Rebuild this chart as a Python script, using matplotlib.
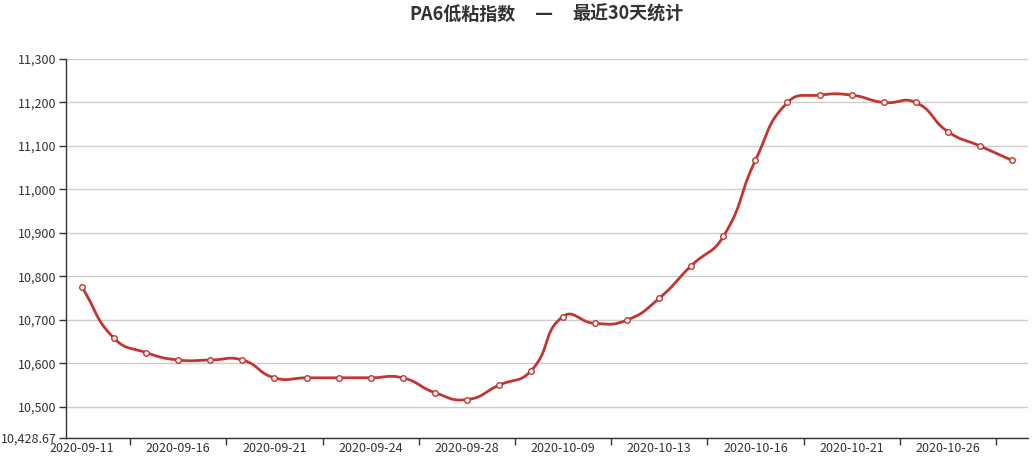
import numpy as np
import matplotlib
matplotlib.use('Agg')
import matplotlib.pyplot as plt
from matplotlib.ticker import FixedLocator, FuncFormatter

plt.rcParams['font.family'] = ['Noto Sans CJK SC', 'DejaVu Sans']

dates = ['2020-09-11', '2020-09-14', '2020-09-15', '2020-09-16', '2020-09-17',
         '2020-09-18', '2020-09-21', '2020-09-22', '2020-09-23', '2020-09-24',
         '2020-09-25', '2020-09-27', '2020-09-28', '2020-09-29', '2020-09-30',
         '2020-10-09', '2020-10-10', '2020-10-12', '2020-10-13', '2020-10-14',
         '2020-10-15', '2020-10-16', '2020-10-19', '2020-10-20', '2020-10-21',
         '2020-10-22', '2020-10-23', '2020-10-26', '2020-10-27', '2020-10-28']
values = [10775, 10658, 10625, 10608, 10608, 10608, 10567, 10567, 10567, 10567,
          10567, 10533, 10517, 10550, 10583, 10708, 10692, 10700, 10750, 10825,
          10892, 11067, 11200, 11217, 11217, 11200, 11200, 11133, 11100, 11067]
y_min = 10428.67
y_ticks = [10500, 10600, 10700, 10800, 10900, 11000, 11100, 11200, 11300]
title_parts = ['PA6低粘指数', '—', '最近30天统计']

LINE = '#c23531'


def smooth_path(px, py, smooth=0.5, n=20):
    # echarts 风格的贝塞尔平滑（在像素坐标下计算）
    pts = np.column_stack([px, py])
    cnt = len(pts)
    cps = []
    for i in range(cnt):
        p = pts[i]
        prev = pts[i - 1] if i > 0 else p
        nxt = pts[i + 1] if i < cnt - 1 else p
        v = (nxt - prev) * smooth
        d0 = np.hypot(*(p - prev))
        d1 = np.hypot(*(p - nxt))
        s = d0 + d1
        if s:
            d0, d1 = d0 / s, d1 / s
        cps.append((p - v * d0, p + v * d1))
    out = [pts[0]]
    t = np.linspace(0, 1, n)[1:, None]
    for i in range(cnt - 1):
        p0, p3 = pts[i], pts[i + 1]
        c1, c2 = cps[i][1], cps[i + 1][0]
        seg = ((1 - t) ** 3) * p0 + 3 * ((1 - t) ** 2) * t * c1 + 3 * (1 - t) * t ** 2 * c2 + t ** 3 * p3
        out.extend(seg)
    return np.array(out)


fig = plt.figure(figsize=(10.35, 4.69), dpi=100)
ax = fig.add_axes([66 / 1035, 1 - 438 / 469, 962 / 1035, 379 / 469])
ax.set_xlim(-0.5, len(dates) - 0.5)
ax.set_ylim(y_min, 11300)

x = np.arange(len(dates))
trans = ax.transData
disp = trans.transform(np.column_stack([x, values]))
curve = trans.inverted().transform(smooth_path(disp[:, 0], disp[:, 1]))
ax.plot(curve[:, 0], curve[:, 1], color=LINE, lw=2, zorder=3, solid_capstyle='round')
ax.plot(x, values, ls='none', marker='o', ms=4, mfc='white', mec=LINE, mew=1, zorder=4)

# 网格与坐标轴
for spine in ['top', 'right']:
    ax.spines[spine].set_visible(False)
for spine in ['left', 'bottom']:
    ax.spines[spine].set_color('#333333')
    ax.spines[spine].set_linewidth(1)
ax.yaxis.set_major_locator(FixedLocator([y_min] + y_ticks))
ax.yaxis.set_major_formatter(FuncFormatter(lambda v, p: f'{v:,.2f}' if abs(v - y_min) < 1e-6 else f'{v:,.0f}'))
ax.grid(axis='y', color='#cccccc', lw=1)
ax.set_axisbelow(True)
ax.tick_params(axis='y', length=5, width=1, color='#333333', labelcolor='#333333', labelsize=9, pad=2)

ax.xaxis.set_major_locator(FixedLocator(x[::3]))
ax.set_xticklabels(dates[::3])
ax.xaxis.set_minor_locator(FixedLocator(np.arange(1.5, len(dates) - 1, 3)))
ax.tick_params(axis='x', which='major', length=0, labelcolor='#333333', labelsize=9, pad=3)
ax.tick_params(axis='x', which='minor', length=5, width=1, color='#333333')

# 标题分三段放置，保持原图的间距
ty = 1 - 14 / 469
style = dict(va='center', fontsize=13, fontweight='bold', color='#333333')
fig.text(516 / 1035, ty, title_parts[0], ha='right', **style)
fig.text(544 / 1035, ty, title_parts[1], ha='center', family=['DejaVu Sans'], **style)
fig.text(572 / 1035, ty, title_parts[2], ha='left', **style)

fig.savefig('out.png', dpi=100)
